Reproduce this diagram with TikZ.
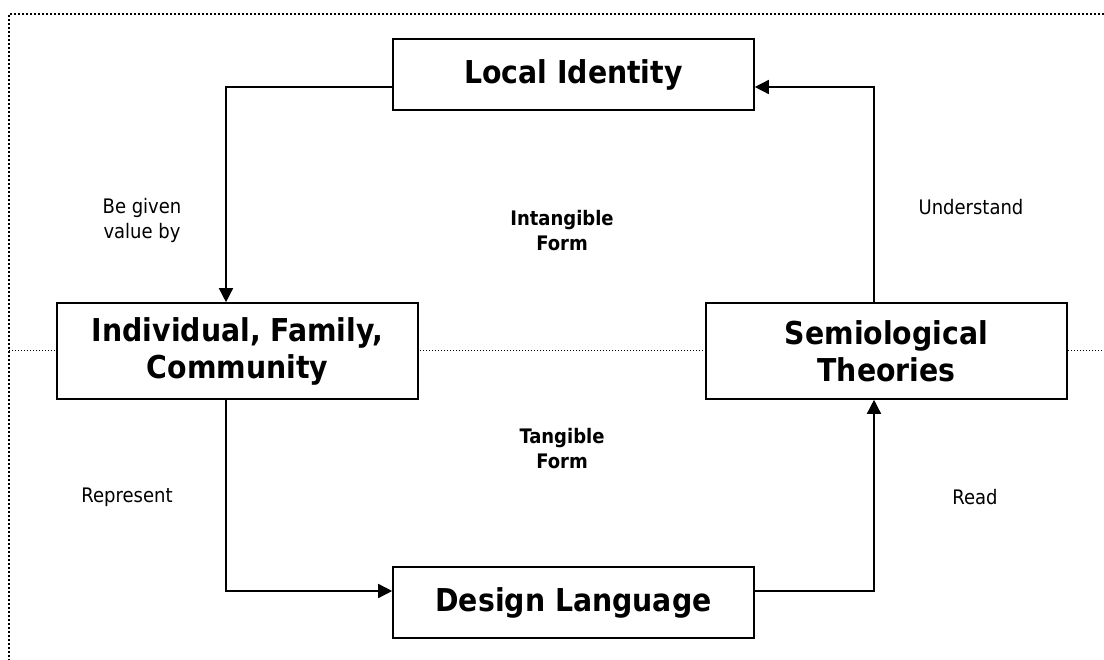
\documentclass[tikz,border=0pt]{standalone}
\usepackage{fontspec}
\setmainfont{DejaVu Sans Condensed}
\usetikzlibrary{arrows.meta}
\tikzset{
  box/.style={draw, line width=1.6pt, fill=white, inner sep=0pt, align=center,
    font=\fontsize{31.5}{37}\selectfont\bfseries},
  lbl/.style={align=center, font=\fontsize{20}{25}\selectfont},
  blbl/.style={align=center, font=\fontsize{20}{25}\selectfont\bfseries},
  conn/.style={line width=1.5pt, -{Triangle[length=14pt,width=14pt]}},
  frame/.style={line width=2pt, dash pattern=on 2pt off 2pt},
  midline/.style={line width=1pt, dash pattern=on 1pt off 2pt}
}
\begin{document}
\begin{tikzpicture}[x=1pt,y=-1pt]
\useasboundingbox (0,0) rectangle (1104,660);
% dotted frame
\coordinate (fTL) at (9,14);
\coordinate (fTR) at (1104,14);
\coordinate (fBL) at (9,660);
\coordinate (mL) at (9,351);
\coordinate (mR) at (1104,351);
\draw[frame] (fTR) -- (fTL) -- (fBL);
\draw[midline] (mL) -- (mR);
% boxes
\node[box, minimum width=361pt, minimum height=71pt] (li) at (573.5,74.5) {Local Identity};
\node[box, minimum width=361pt, minimum height=96pt] (ifc) at (237.5,351) {Individual, Family,\\Community};
\node[box, minimum width=361pt, minimum height=96pt] (st) at (886.5,351) {Semiological\\Theories};
\node[box, minimum width=361pt, minimum height=71pt] (dl) at (573.5,602.5) {Design Language};
% labels
\node[lbl] (l1) at (142,220.5) {Be given\\value by};
\node[blbl] (l2) at (562,230.5) {Intangible\\Form};
\node[lbl] (l3) at (971,207) {Understand};
\node[blbl] (l4) at (562,449) {Tangible\\Form};
\node[lbl] (l5) at (127,497) {Represent};
\node[lbl] (l6) at (975,497) {Read};
% connectors
\coordinate (c1) at (226,87);
\coordinate (c2) at (874,87);
\coordinate (c3) at (226,591);
\coordinate (c4) at (874,591);
\draw[conn] (li.west |- c1) -- (c1) -- (c1 |- ifc.north);
\draw[conn] (c3 |- ifc.south) -- (c3) -- (c3 -| dl.west);
\draw[conn] (c4 -| dl.east) -- (c4) -- (c4 |- st.south);
\draw[conn] (c2 |- st.north) -- (c2) -- (c2 -| li.east);
\end{tikzpicture}
\end{document}
